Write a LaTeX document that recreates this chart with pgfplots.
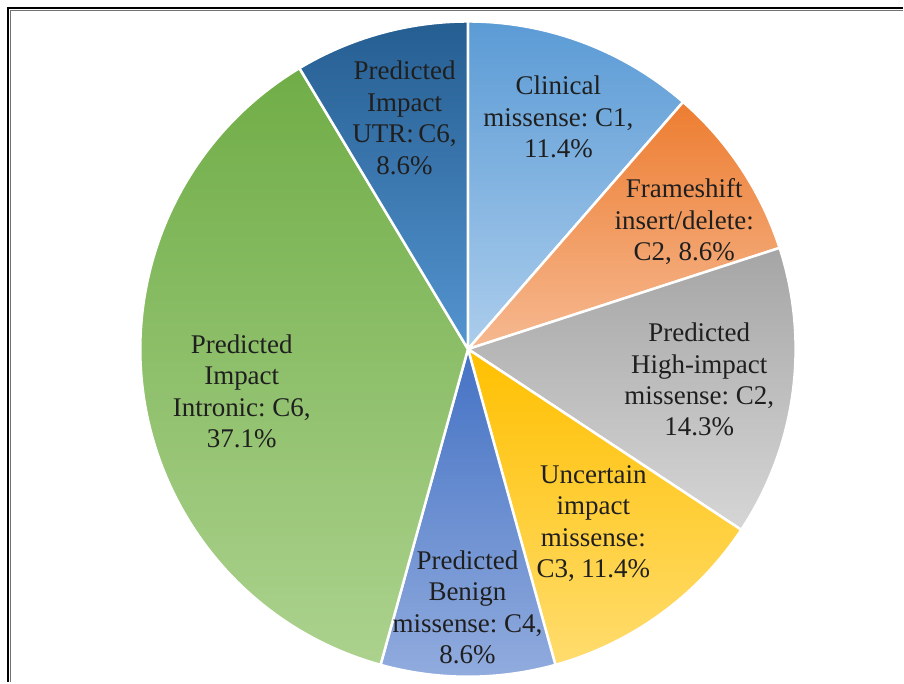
\documentclass[border=0pt]{standalone}
\usepackage{pgfplots}
\usepackage{pgfplotstable}
\pgfplotsset{compat=1.18}
\usepackage{fontspec}
\setmainfont{Liberation Serif}

% slice colours: darker at the top of each slice, lighter at the bottom
\definecolor{sl0top}{RGB}{91,155,213}  \definecolor{sl0bot}{RGB}{172,205,236}
\definecolor{sl1top}{RGB}{237,125,49}  \definecolor{sl1bot}{RGB}{246,185,145}
\definecolor{sl2top}{RGB}{165,165,165} \definecolor{sl2bot}{RGB}{214,214,214}
\definecolor{sl3top}{RGB}{255,192,0}   \definecolor{sl3bot}{RGB}{255,220,110}
\definecolor{sl4top}{RGB}{68,114,196}  \definecolor{sl4bot}{RGB}{146,172,222}
\definecolor{sl5top}{RGB}{112,173,71}  \definecolor{sl5bot}{RGB}{172,210,142}
\definecolor{sl6top}{RGB}{37,94,145}   \definecolor{sl6bot}{RGB}{84,148,208}

% share of each category in percent, clockwise from twelve o'clock
\pgfplotstableread{
share
11.4
8.6
14.3
11.4
8.6
37.1
8.6
}\slices

% start and end angle of every slice
\def\cum{0}
\pgfplotsforeachungrouped \i in {0,...,6}{%
  \pgfplotstablegetelem{\i}{share}\of\slices
  \pgfmathsetmacro\sa{90-3.6*\cum}%
  \pgfmathsetmacro\cumnew{\cum+\pgfplotsretval}%
  \pgfmathsetmacro\sb{90-3.6*\cumnew}%
  \expandafter\xdef\csname sa\i\endcsname{\sa}%
  \expandafter\xdef\csname sb\i\endcsname{\sb}%
  \xdef\cum{\cumnew}%
}

\def\cx{468.5}
\def\cy{333.5}
\def\rad{328}

\begin{document}
\begin{tikzpicture}
\begin{axis}[
  scale only axis, width=904pt, height=683pt,
  xmin=0, xmax=904, ymin=0, ymax=683,
  hide axis, clip=false,
]
\path (axis cs:0,0) (axis cs:904,683);

\pgfplotsinvokeforeach{0,...,6}{%
  \path[top color=sl#1top, bottom color=sl#1bot, draw=white, line width=2.5pt, line join=round]
    (axis cs:\cx,\cy) -- ++(\csname sa#1\endcsname:\rad pt)
    arc[start angle=\csname sa#1\endcsname, end angle=\csname sb#1\endcsname, radius=\rad pt]
    -- cycle;
}

\begin{scope}[every node/.style={align=center, text=black!88, font=\fontsize{27}{31.5}\selectfont}]
\node at (axis cs:559,566) {Clinical\\missense:\ C1,\\11.4\%};
\node at (axis cs:685,461) {Frameshift\\insert/delete:\\C2, 8.6\%};
\node at (axis cs:700,303) {Predicted\\High-impact\\missense:\ C2,\\14.3\%};
\node at (axis cs:594,159) {Uncertain\\impact\\missense:\\C3, 11.4\%};
\node at (axis cs:468,75) {Predicted\\Benign\\missense:\ C4,\\8.6\%};
\node at (axis cs:242,291) {Predicted\\Impact\\Intronic:\ C6,\\37.1\%};
\node at (axis cs:405,565) {Predicted\\Impact\\UTR:\,C6,\\8.6\%};
\end{scope}

% frame along the top and left
\draw[black!55, line width=1pt] (axis cs:10.5,0) -- (axis cs:10.5,672.5) -- (axis cs:904,672.5);
\draw[black, line width=2pt] (axis cs:8.5,0) -- (axis cs:8.5,674.5) -- (axis cs:904,674.5);
\end{axis}
\end{tikzpicture}
\end{document}
